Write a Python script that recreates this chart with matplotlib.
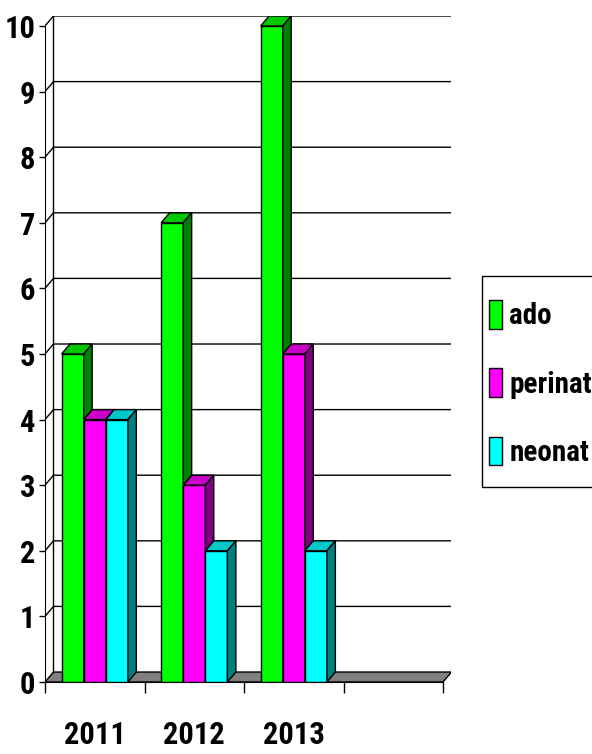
import logging
import matplotlib
matplotlib.use('Agg')
import matplotlib.pyplot as plt
from matplotlib.patches import Polygon, Patch, Rectangle

logging.getLogger('matplotlib.font_manager').setLevel(logging.ERROR)

# data
years = ['2011', '2012', '2013', '']
series = ['ado', 'perinat', 'neonat']
ado = [5, 7, 10]
perinat = [4, 3, 5]
neonat = [4, 2, 2]
yticks = list(range(0, 11))

front_col = ['#00ff00', '#ff00ff', '#00ffff']
top_col = ['#00c800', '#c800c8', '#00c8c8']
side_col = ['#008000', '#800080', '#008080']

DX, DY = 0.085, 0.152  # fake 3d depth, data units
W = 0.222  # bar width

plt.rcParams['font.family'] = ['Arial Narrow', 'Liberation Sans Narrow', 'Roboto Condensed',
                               'Archivo Narrow', 'IBM Plex Sans Condensed', 'Sofia Sans Condensed',
                               'DejaVu Sans']
plt.rcParams['font.weight'] = 'bold'

FW, FH = 592, 754
fig = plt.figure(figsize=(FW/100, FH/100), dpi=100)
ax = fig.add_axes([45/FW, 72/FH, 406.5/FW, 666/FH])
ncat = len(years)
x_lo, x_hi = -0.5, ncat - 0.5
ymax = yticks[-1]
ax.set_xlim(x_lo, x_hi + DX)
ax.set_ylim(0, ymax + DY)

# floor
ax.add_patch(Polygon([(x_lo, 0), (x_hi, 0), (x_hi + DX, DY), (x_lo + DX, DY)],
                     closed=True, facecolor='#808080', edgecolor='k', lw=1, zorder=1))
# walls + gridlines
for v in yticks[1:]:
    ax.plot([x_lo, x_lo + DX, x_hi + DX], [v, v + DY, v + DY], color='k', lw=1, zorder=1)
ax.plot([x_lo + DX] * 2, [DY, ymax + DY], color='k', lw=1, zorder=1)
ax.plot([x_hi + DX] * 2, [DY, ymax + DY], color='k', lw=1, zorder=1)

# bars, left to right so the faces overlap right
z = 3
data = [ado, perinat, neonat]
for i in range(len(ado)):
    for j, vals in enumerate(data):
        v = vals[i]
        x0 = i + (j - 1.5) * W
        ax.bar(x0, v, width=W, align='edge', color=front_col[j], edgecolor='k', lw=1, zorder=z)
        ax.add_patch(Polygon([(x0, v), (x0 + W, v), (x0 + W + DX, v + DY), (x0 + DX, v + DY)],
                             closed=True, facecolor=top_col[j], edgecolor='k', lw=1, zorder=z))
        ax.add_patch(Polygon([(x0 + W, 0), (x0 + W + DX, DY), (x0 + W + DX, v + DY), (x0 + W, v)],
                             closed=True, facecolor=side_col[j], edgecolor='k', lw=1, zorder=z))
        z += 1

for s in ['top', 'right']:
    ax.spines[s].set_visible(False)
ax.spines['left'].set_bounds(0, ymax)
ax.spines['bottom'].set_bounds(x_lo, x_hi)
ax.spines['left'].set_zorder(20)

ax.set_yticks(yticks)
ax.tick_params(axis='y', length=4, width=1, pad=3, labelsize=22)
ax.set_xticks([x_lo + k for k in range(ncat + 1)])
ax.set_xticklabels([])
ax.set_xticks(list(range(len(ado))), minor=True)
ax.set_xticklabels(years[:len(ado)], minor=True)
ax.tick_params(axis='x', which='major', length=8, width=1)
ax.tick_params(axis='x', which='minor', length=0, pad=27, labelsize=22)

# legend: frame runs off the right edge of the canvas
fig.patches.append(Rectangle((482/FW, 1 - 487/FH), 130/FW, 211/FH, transform=fig.transFigure,
                             facecolor='white', edgecolor='k', lw=1, zorder=0))
handles = [Patch(facecolor=front_col[j], edgecolor='k') for j in range(len(series))]
leg = fig.legend(handles, series, loc='upper left', bbox_to_anchor=(489/FW, 1 - 300/FH),
                 frameon=False, fontsize=21,
                 handlelength=0.45, handleheight=1.15, handletextpad=0.25,
                 labelspacing=1.3, borderpad=0, borderaxespad=0)

fig.savefig('out.png', dpi=100)
